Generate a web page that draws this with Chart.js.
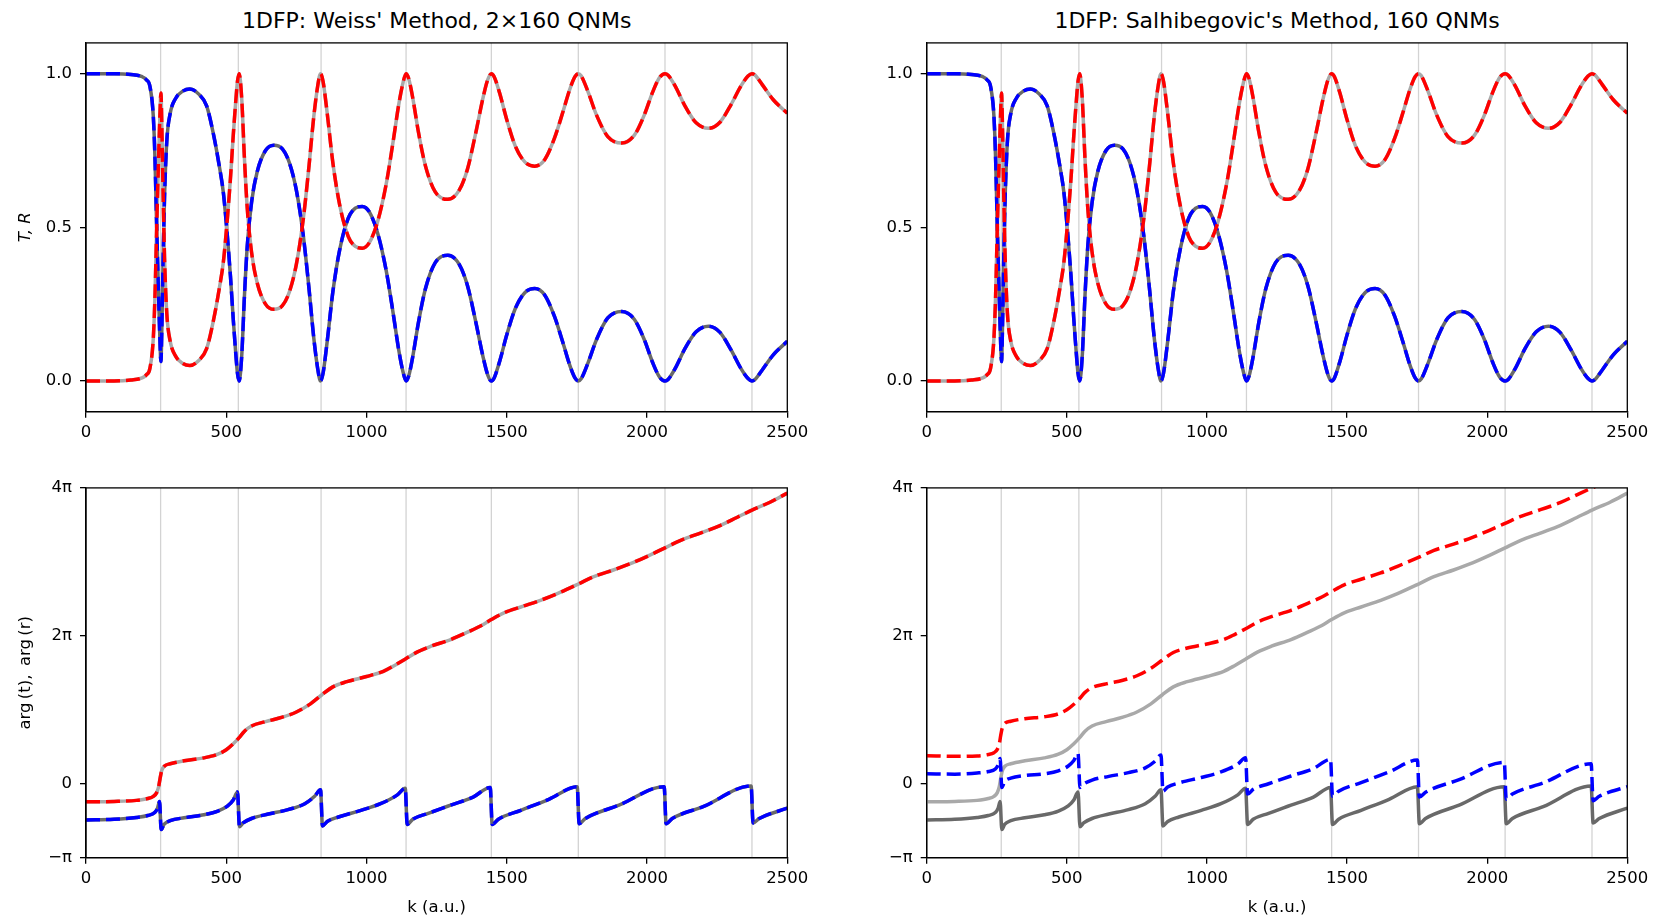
<!DOCTYPE html>
<html>
<head>
<meta charset="utf-8">
<script src="https://cdn.jsdelivr.net/npm/chart.js@4.4.0/dist/chart.umd.min.js"></script>
<style>
  body { margin: 0; background: #fff; width: 1657px; height: 918px; position: relative; overflow: hidden; font-family: 'DejaVu Sans'; }
  canvas { position: absolute; }
  .ttl { position: absolute; top: 10px; font-size: 22px; line-height: 22px; white-space: nowrap; transform: translateX(-50%); color: #000; }
</style>
</head>
<body>
<div class="ttl" style="left:436.7px">1DFP: Weiss' Method, 2×160 QNMs</div>
<div class="ttl" style="left:1277px">1DFP: Salhibegovic's Method, 160 QNMs</div>
<canvas id="tl"></canvas>
<canvas id="tr"></canvas>
<canvas id="bl"></canvas>
<canvas id="br"></canvas>
<script>
// tick values and labels
const xTicks = [0, 500, 1000, 1500, 2000, 2500];
const yTicksTop = [0, 0.5, 1];
const yLabelsTop = ["0.0", "0.5", "1.0"];
const yTicksPhase = [-1, 0, 2, 4];          // in units of pi
const yLabelsPhase = ["−π", "0", "2π", "4π"];

// resonance positions (light vertical lines)
const resonances = [266, 543, 838, 1141, 1445, 1755, 2064, 2374];

// T and R (top row)
const kTop = [0,100,160,200,215,228,240,246,252,258,
  264,267,271,275,280,288,300,320,345,370,
  400,430,455,475,490,505,515,525,533,540,
  546,555,565,575,590,610,640,670,700,725,
  750,775,795,812,826,836,845,860,880,905,
  935,960,985,1010,1040,1070,1095,1115,1130,1141,
  1150,1165,1185,1210,1245,1290,1330,1360,1390,1415,
  1432,1445,1455,1475,1500,1530,1565,1600,1635,1670,
  1700,1725,1743,1755,1765,1790,1820,1860,1910,1955,
  1990,2020,2045,2064,2075,2100,2135,2175,2219,2260,
  2300,2335,2360,2374,2385,2410,2450,2500];
const transT = [1.0,1.0,0.997,0.99,0.98,0.958,0.86,0.72,0.5,0.3,
  0.12,0.063,0.2,0.4,0.6,0.78,0.87,0.92,0.943,0.95,
  0.935,0.895,0.8,0.7,0.61,0.46,0.34,0.2,0.1,0.025,
  0,0.08,0.28,0.44,0.58,0.68,0.75,0.767,0.755,0.71,
  0.62,0.47,0.3,0.14,0.04,0,0.025,0.13,0.29,0.43,
  0.53,0.562,0.568,0.55,0.48,0.36,0.22,0.1,0.03,0,
  0.015,0.08,0.19,0.3,0.385,0.409,0.38,0.31,0.19,0.08,
  0.02,0,0.01,0.065,0.15,0.235,0.288,0.301,0.28,0.21,
  0.125,0.05,0.01,0,0.007,0.06,0.135,0.205,0.226,0.2,
  0.135,0.06,0.012,0,0.005,0.04,0.105,0.16,0.178,0.158,
  0.1,0.04,0.008,0,0.005,0.035,0.085,0.129];
const reflR = [0,0,0.003,0.01,0.02,0.042,0.14,0.28,0.5,0.7,
  0.88,0.937,0.8,0.6,0.4,0.22,0.13,0.08,0.057,0.05,
  0.065,0.105,0.2,0.3,0.39,0.54,0.66,0.8,0.9,0.975,
  1,0.92,0.72,0.56,0.42,0.32,0.25,0.233,0.245,0.29,
  0.38,0.53,0.7,0.86,0.96,1,0.975,0.87,0.71,0.57,
  0.47,0.438,0.432,0.45,0.52,0.64,0.78,0.9,0.97,1,
  0.985,0.92,0.81,0.7,0.615,0.591,0.62,0.69,0.81,0.92,
  0.98,1,0.99,0.935,0.85,0.765,0.712,0.699,0.72,0.79,
  0.875,0.95,0.99,1,0.993,0.94,0.865,0.795,0.774,0.8,
  0.865,0.94,0.988,1,0.995,0.96,0.895,0.84,0.822,0.842,
  0.9,0.96,0.992,1,0.995,0.965,0.915,0.871];

// phases (bottom row), in units of pi
const kArgR = [0,100,180,220,240,252,259,264,270,280,
  300,350,420,470,500,525,545,565,590,640,
  700,750,800,840,880,930,1000,1060,1100,1140,
  1180,1230,1300,1360,1410,1445,1490,1550,1620,1680,
  1755,1810,1880,1950,2010,2064,2120,2190,2260,2320,
  2374,2440,2500];
const argRExact = [-0.245,-0.24,-0.225,-0.2,-0.17,-0.12,-0.04,0.07,0.18,0.24,
  0.27,0.31,0.35,0.4,0.46,0.54,0.62,0.71,0.78,0.84,
  0.9,0.97,1.08,1.2,1.31,1.38,1.45,1.52,1.6,1.69,
  1.78,1.86,1.95,2.05,2.14,2.22,2.31,2.39,2.48,2.57,
  2.7,2.8,2.89,2.99,3.09,3.19,3.29,3.39,3.49,3.6,
  3.7,3.81,3.93];
const argRSalh = [0.38,0.37,0.375,0.395,0.42,0.465,0.54,0.65,0.76,0.82,
  0.845,0.88,0.905,0.945,1.0,1.075,1.15,1.235,1.3,1.35,
  1.4,1.46,1.56,1.67,1.775,1.835,1.89,1.95,2.02,2.1,
  2.185,2.26,2.345,2.44,2.525,2.6,2.69,2.765,2.85,2.94,
  3.06,3.155,3.24,3.335,3.43,3.52,3.615,3.705,3.8,3.905,
  4.0,4.105,4.22];

const kArgT = [0,100,180,220,245,255,262,268,278,300,
  350,420,470,505,525,540,547,560,590,650,
  720,780,815,836,843,860,900,980,1050,1110,
  1138,1145,1165,1220,1300,1380,1441,1448,1470,1550,
  1650,1751,1758,1780,1900,2061,2068,2090,2200,2371,
  2378,2400,2500];
const argTExact = [-0.49,-0.48,-0.455,-0.43,-0.39,-0.33,-0.24,-0.62,-0.55,-0.5,
  -0.46,-0.42,-0.37,-0.3,-0.22,-0.11,-0.58,-0.53,-0.47,-0.41,
  -0.35,-0.27,-0.17,-0.08,-0.57,-0.51,-0.45,-0.36,-0.27,-0.15,
  -0.06,-0.55,-0.48,-0.4,-0.29,-0.18,-0.05,-0.55,-0.48,-0.36,
  -0.21,-0.04,-0.54,-0.47,-0.29,-0.04,-0.54,-0.47,-0.31,-0.03,
  -0.53,-0.47,-0.33];
const argTSalh = [0.135,0.13,0.145,0.165,0.2,0.255,0.34,-0.05,0.03,0.075,
  0.11,0.135,0.175,0.24,0.315,0.41,-0.05,-0.005,0.05,0.1,
  0.15,0.215,0.305,0.39,-0.1,-0.045,0.01,0.085,0.16,0.265,
  0.35,-0.14,-0.075,0.0,0.105,0.205,0.33,-0.17,-0.1,0.015,
  0.16,0.32,-0.18,-0.115,0.055,0.29,-0.21,-0.14,0.01,0.27,
  -0.23,-0.17,-0.04];

Chart.defaults.font.family = "'DejaVu Sans'";
Chart.defaults.font.size = 16.5;
Chart.defaults.color = "#000";

const BLUE = "rgb(0,0,255)";
const RED = "rgb(255,0,0)";
const DARKGRAY = "rgb(105,105,105)";
const LIGHTGRAY = "rgb(169,169,169)";
const DASH = [14, 6];

function pts(ks, vs) {
  return ks.map((k, i) => ({ x: k, y: vs[i] }));
}

function curve(data, color, dashed) {
  return {
    data: data,
    borderColor: color,
    borderWidth: 3.5,
    borderDash: dashed ? DASH : [],
    pointRadius: 0,
    cubicInterpolationMode: "monotone",
    fill: false,
  };
}

function resonanceLines(lo, hi) {
  const data = [];
  resonances.forEach((k) => {
    data.push({ x: k, y: lo }, { x: k, y: hi }, { x: k, y: null });
  });
  return { data: data, borderColor: "rgb(211,211,211)", borderWidth: 1.3, pointRadius: 0, tension: 0, spanGaps: false };
}

// box round the plotting area
const frame = {
  id: "frame",
  afterDraw(chart) {
    const a = chart.chartArea;
    const ctx = chart.ctx;
    ctx.save();
    ctx.strokeStyle = "#000";
    ctx.lineWidth = 1.3;
    ctx.strokeRect(a.left, a.top, a.right - a.left, a.bottom - a.top);
    ctx.restore();
  },
};

function makePanel(id, box, axes, opt) {
  const cv = document.getElementById(id);
  cv.style.left = box[0] + "px";
  cv.style.top = box[1] + "px";
  cv.width = box[2] - box[0];
  cv.height = box[3] - box[1];

  return new Chart(cv, {
    type: "line",
    data: { datasets: opt.datasets },
    options: {
      responsive: false,
      animation: false,
      events: [],
      layout: { padding: { left: 0, top: axes[1] - box[1], right: box[2] - axes[2], bottom: 0 } },
      plugins: { legend: { display: false }, tooltip: { enabled: false } },
      scales: {
        x: {
          type: "linear",
          min: 0,
          max: 2500,
          afterFit: (s) => { s.height = box[3] - axes[3]; },
          afterBuildTicks: (s) => { s.ticks = xTicks.map((v) => ({ value: v })); },
          ticks: { callback: (v) => String(v), maxRotation: 0, padding: 5 },
          grid: { drawOnChartArea: false, tickLength: 6, color: "#000", lineWidth: 1.3 },
          border: { color: "#000", width: 1.3 },
          title: opt.xTitle
            ? { display: true, text: opt.xTitle, padding: { top: 0, bottom: 0.5 } }
            : { display: false },
        },
        y: {
          type: "linear",
          min: opt.yMin,
          max: opt.yMax,
          afterFit: (s) => { s.width = axes[0] - box[0]; },
          afterBuildTicks: (s) => { s.ticks = opt.yTicks.map((v) => ({ value: v })); },
          ticks: { callback: (v) => opt.yLabels[opt.yTicks.indexOf(v)], padding: 8 },
          grid: { drawOnChartArea: false, tickLength: 6, color: "#000", lineWidth: 1.3 },
          border: { color: "#000", width: 1.3 },
          title: opt.yTitle
            ? { display: true, text: opt.yTitle, font: { style: opt.yTitleItalic ? "italic" : "normal" }, padding: { top: 3.6, bottom: 0 } }
            : { display: false },
        },
      },
    },
    plugins: [frame],
  });
}

// first dataset is drawn on top
makePanel("tl", [12, 25, 830, 455], [86, 39.3, 787.3, 411.7], {
  yMin: -0.1, yMax: 1.1, yTicks: yTicksTop, yLabels: yLabelsTop,
  yTitle: "T, R", yTitleItalic: true,
  datasets: [
    curve(pts(kTop, reflR), RED, true),
    curve(pts(kTop, transT), BLUE, true),
    curve(pts(kTop, reflR), LIGHTGRAY, false),
    curve(pts(kTop, transT), DARKGRAY, false),
    resonanceLines(-0.1, 1.1),
  ],
});

makePanel("tr", [860, 25, 1655, 455], [926.7, 39.3, 1627.3, 411.7], {
  yMin: -0.1, yMax: 1.1, yTicks: yTicksTop, yLabels: yLabelsTop,
  datasets: [
    curve(pts(kTop, reflR), RED, true),
    curve(pts(kTop, transT), BLUE, true),
    curve(pts(kTop, reflR), LIGHTGRAY, false),
    curve(pts(kTop, transT), DARKGRAY, false),
    resonanceLines(-0.1, 1.1),
  ],
});

makePanel("bl", [12, 470, 830, 918], [86, 486.7, 787.3, 857.7], {
  yMin: -1, yMax: 4, yTicks: yTicksPhase, yLabels: yLabelsPhase,
  yTitle: "arg\u2009(t), \u2009arg\u2009(r)", xTitle: "k (a.u.)",
  datasets: [
    curve(pts(kArgR, argRExact), RED, true),
    curve(pts(kArgT, argTExact), BLUE, true),
    curve(pts(kArgR, argRExact), LIGHTGRAY, false),
    curve(pts(kArgT, argTExact), DARKGRAY, false),
    resonanceLines(-1, 4),
  ],
});

makePanel("br", [860, 470, 1655, 918], [926.7, 486.7, 1627.3, 857.7], {
  yMin: -1, yMax: 4, yTicks: yTicksPhase, yLabels: yLabelsPhase,
  xTitle: "k (a.u.)",
  datasets: [
    curve(pts(kArgR, argRSalh), RED, true),
    curve(pts(kArgT, argTSalh), BLUE, true),
    curve(pts(kArgR, argRExact), LIGHTGRAY, false),
    curve(pts(kArgT, argTExact), DARKGRAY, false),
    resonanceLines(-1, 4),
  ],
});
</script>
</body>
</html>
